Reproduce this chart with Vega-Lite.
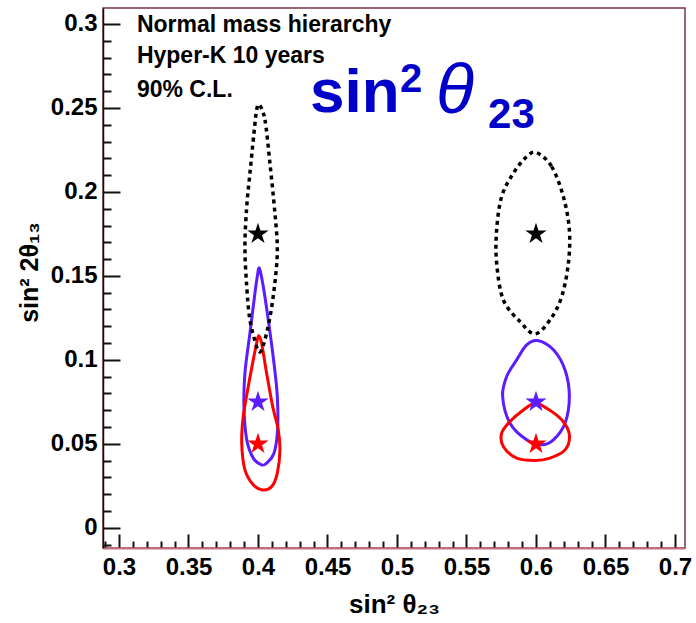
{
  "$schema": "https://vega.github.io/schema/vega-lite/v6.json",
  "width": 582,
  "height": 540,
  "autosize": {"type": "none"},
  "padding": {"left": 103, "top": 8, "right": 11, "bottom": 75},
  "background": "white",
  "config": {
    "view": {"stroke": "#7a3545", "strokeWidth": 1.5},
    "axis": {"grid": false}
  },
  "datasets": {
    "contours": [
      {"c":"bkL","g":"black","i":0,"x":0.4010,"y":0.2518},
      {"c":"bkL","g":"black","i":1,"x":0.4050,"y":0.2429},
      {"c":"bkL","g":"black","i":2,"x":0.4086,"y":0.2171},
      {"c":"bkL","g":"black","i":3,"x":0.4122,"y":0.1873},
      {"c":"bkL","g":"black","i":4,"x":0.4139,"y":0.1675},
      {"c":"bkL","g":"black","i":5,"x":0.4129,"y":0.1516},
      {"c":"bkL","g":"black","i":6,"x":0.4099,"y":0.1317},
      {"c":"bkL","g":"black","i":7,"x":0.4062,"y":0.1159},
      {"c":"bkL","g":"black","i":8,"x":0.4026,"y":0.1060},
      {"c":"bkL","g":"black","i":9,"x":0.4005,"y":0.1050},
      {"c":"bkL","g":"black","i":10,"x":0.3990,"y":0.1079},
      {"c":"bkL","g":"black","i":11,"x":0.3942,"y":0.1238},
      {"c":"bkL","g":"black","i":12,"x":0.3919,"y":0.1437},
      {"c":"bkL","g":"black","i":13,"x":0.3906,"y":0.1675},
      {"c":"bkL","g":"black","i":14,"x":0.3919,"y":0.1913},
      {"c":"bkL","g":"black","i":15,"x":0.3942,"y":0.2111},
      {"c":"bkL","g":"black","i":16,"x":0.3971,"y":0.2349},
      {"c":"bkL","g":"black","i":17,"x":0.3990,"y":0.2488},

      {"c":"buL","g":"blue","i":0,"x":0.4010,"y":0.1546},
      {"c":"buL","g":"blue","i":1,"x":0.4038,"y":0.1437},
      {"c":"buL","g":"blue","i":2,"x":0.4074,"y":0.1238},
      {"c":"buL","g":"blue","i":3,"x":0.4115,"y":0.0980},
      {"c":"buL","g":"blue","i":4,"x":0.4139,"y":0.0782},
      {"c":"buL","g":"blue","i":5,"x":0.4141,"y":0.0583},
      {"c":"buL","g":"blue","i":6,"x":0.4115,"y":0.0444},
      {"c":"buL","g":"blue","i":7,"x":0.4062,"y":0.0385},
      {"c":"buL","g":"blue","i":8,"x":0.4026,"y":0.0375},
      {"c":"buL","g":"blue","i":9,"x":0.3966,"y":0.0415},
      {"c":"buL","g":"blue","i":10,"x":0.3919,"y":0.0524},
      {"c":"buL","g":"blue","i":11,"x":0.3899,"y":0.0722},
      {"c":"buL","g":"blue","i":12,"x":0.3906,"y":0.0921},
      {"c":"buL","g":"blue","i":13,"x":0.3942,"y":0.1159},
      {"c":"buL","g":"blue","i":14,"x":0.3978,"y":0.1397},
      {"c":"buL","g":"blue","i":15,"x":0.3995,"y":0.1496},

      {"c":"rdL","g":"red","i":0,"x":0.4005,"y":0.1143},
      {"c":"rdL","g":"red","i":1,"x":0.4026,"y":0.1099},
      {"c":"rdL","g":"red","i":2,"x":0.4062,"y":0.0921},
      {"c":"rdL","g":"red","i":3,"x":0.4106,"y":0.0722},
      {"c":"rdL","g":"red","i":4,"x":0.4146,"y":0.0583},
      {"c":"rdL","g":"red","i":5,"x":0.4158,"y":0.0464},
      {"c":"rdL","g":"red","i":6,"x":0.4139,"y":0.0326},
      {"c":"rdL","g":"red","i":7,"x":0.4099,"y":0.0246},
      {"c":"rdL","g":"red","i":8,"x":0.4033,"y":0.0226},
      {"c":"rdL","g":"red","i":9,"x":0.3966,"y":0.0256},
      {"c":"rdL","g":"red","i":10,"x":0.3906,"y":0.0345},
      {"c":"rdL","g":"red","i":11,"x":0.3883,"y":0.0504},
      {"c":"rdL","g":"red","i":12,"x":0.3894,"y":0.0663},
      {"c":"rdL","g":"red","i":13,"x":0.3930,"y":0.0841},
      {"c":"rdL","g":"red","i":14,"x":0.3966,"y":0.1000},
      {"c":"rdL","g":"red","i":15,"x":0.3990,"y":0.1099},

      {"c":"bkR","g":"black","i":0,"x":0.6005,"y":0.2234},
      {"c":"bkR","g":"black","i":1,"x":0.6113,"y":0.2151},
      {"c":"bkR","g":"black","i":2,"x":0.6197,"y":0.1972},
      {"c":"bkR","g":"black","i":3,"x":0.6240,"y":0.1774},
      {"c":"bkR","g":"black","i":4,"x":0.6233,"y":0.1575},
      {"c":"bkR","g":"black","i":5,"x":0.6185,"y":0.1377},
      {"c":"bkR","g":"black","i":6,"x":0.6101,"y":0.1238},
      {"c":"bkR","g":"black","i":7,"x":0.5993,"y":0.1155},
      {"c":"bkR","g":"black","i":8,"x":0.5885,"y":0.1228},
      {"c":"bkR","g":"black","i":9,"x":0.5765,"y":0.1357},
      {"c":"bkR","g":"black","i":10,"x":0.5717,"y":0.1575},
      {"c":"bkR","g":"black","i":11,"x":0.5717,"y":0.1774},
      {"c":"bkR","g":"black","i":12,"x":0.5753,"y":0.1972},
      {"c":"bkR","g":"black","i":13,"x":0.5837,"y":0.2111},
      {"c":"bkR","g":"black","i":14,"x":0.5933,"y":0.2210},

      {"c":"buR","g":"blue","i":0,"x":0.6010,"y":0.1115},
      {"c":"buR","g":"blue","i":1,"x":0.6125,"y":0.1060},
      {"c":"buR","g":"blue","i":2,"x":0.6209,"y":0.0940},
      {"c":"buR","g":"blue","i":3,"x":0.6240,"y":0.0782},
      {"c":"buR","g":"blue","i":4,"x":0.6209,"y":0.0623},
      {"c":"buR","g":"blue","i":5,"x":0.6125,"y":0.0524},
      {"c":"buR","g":"blue","i":6,"x":0.6041,"y":0.0494},
      {"c":"buR","g":"blue","i":7,"x":0.5933,"y":0.0524},
      {"c":"buR","g":"blue","i":8,"x":0.5813,"y":0.0623},
      {"c":"buR","g":"blue","i":9,"x":0.5760,"y":0.0782},
      {"c":"buR","g":"blue","i":10,"x":0.5789,"y":0.0901},
      {"c":"buR","g":"blue","i":11,"x":0.5861,"y":0.1000},
      {"c":"buR","g":"blue","i":12,"x":0.5933,"y":0.1089},

      {"c":"rdR","g":"red","i":0,"x":0.5993,"y":0.0742},
      {"c":"rdR","g":"red","i":1,"x":0.6077,"y":0.0712},
      {"c":"rdR","g":"red","i":2,"x":0.6185,"y":0.0643},
      {"c":"rdR","g":"red","i":3,"x":0.6240,"y":0.0554},
      {"c":"rdR","g":"red","i":4,"x":0.6209,"y":0.0464},
      {"c":"rdR","g":"red","i":5,"x":0.6101,"y":0.0415},
      {"c":"rdR","g":"red","i":6,"x":0.5993,"y":0.0401},
      {"c":"rdR","g":"red","i":7,"x":0.5861,"y":0.0415},
      {"c":"rdR","g":"red","i":8,"x":0.5765,"y":0.0484},
      {"c":"rdR","g":"red","i":9,"x":0.5753,"y":0.0564},
      {"c":"rdR","g":"red","i":10,"x":0.5813,"y":0.0633},
      {"c":"rdR","g":"red","i":11,"x":0.5909,"y":0.0702}
    ],
    "stars": [
      {"g":"black","x":0.4,"y":0.175},
      {"g":"blue","x":0.4,"y":0.075},
      {"g":"red","x":0.4,"y":0.05},
      {"g":"black","x":0.6,"y":0.175},
      {"g":"blue","x":0.6,"y":0.075},
      {"g":"red","x":0.6,"y":0.05}
    ],
    "notes": [
      {"t": "Normal mass hierarchy", "x": 0.3129, "y": 0.2951},
      {"t": "Hyper-K 10 years", "x": 0.3129, "y": 0.2766},
      {"t": "90% C.L.", "x": 0.3129, "y": 0.2567}
    ],
    "bigtext": [
      {"part": "sin", "t": "sin", "x": 0.4374, "y": 0.2478},
      {"part": "sup", "t": "2", "x": 0.5022, "y": 0.2595},
      {"part": "theta", "t": "θ", "x": 0.5280, "y": 0.2470},
      {"part": "sub", "t": "23", "x": 0.5655, "y": 0.2381}
    ]
  },
  "encoding": {
    "x": {
      "field": "x", "type": "quantitative",
      "scale": {"domain": [0.2885, 0.7072], "nice": false, "zero": false},
      "axis": {
        "title": "sin² θ₂₃",
        "values": [0.29,0.3,0.31,0.32,0.33,0.34,0.35,0.36,0.37,0.38,0.39,0.4,0.41,0.42,0.43,0.44,0.45,0.46,0.47,0.48,0.49,0.5,0.51,0.52,0.53,0.54,0.55,0.56,0.57,0.58,0.59,0.6,0.61,0.62,0.63,0.64,0.65,0.66,0.67,0.68,0.69,0.7],
        "labelExpr": "abs(datum.value*20 - round(datum.value*20)) < 0.001 ? toString(round(datum.value*100)/100) : ''",
        "tickSize": {"condition": {"test": "abs(datum.value*20 - round(datum.value*20)) < 0.001", "value": -14}, "value": -7},
        "labelPadding": 21,
        "labelFont": "Liberation Sans", "labelFontWeight": "bold", "labelFontSize": 24, "labelColor": "black",
        "labelOverlap": false, "labelFlush": false,
        "tickColor": "#111111", "tickWidth": 2,
        "domainColor": "#c87080", "domainWidth": 2,
        "titleFont": "Liberation Sans", "titleFontSize": 26, "titleFontWeight": "bold", "titleColor": "black",
        "titleX": 291, "titleY": 64, "titleBaseline": "alphabetic", "titleAlign": "center"
      }
    },
    "y": {
      "field": "y", "type": "quantitative",
      "scale": {"domain": [-0.012, 0.3095], "nice": false, "zero": false},
      "axis": {
        "title": "sin² 2θ₁₃",
        "values": [-0.01,0,0.01,0.02,0.03,0.04,0.05,0.06,0.07,0.08,0.09,0.1,0.11,0.12,0.13,0.14,0.15,0.16,0.17,0.18,0.19,0.2,0.21,0.22,0.23,0.24,0.25,0.26,0.27,0.28,0.29,0.3],
        "labelExpr": "abs(datum.value*20 - round(datum.value*20)) < 0.001 ? toString(round(datum.value*100)/100) : ''",
        "tickSize": {"condition": {"test": "abs(datum.value*20 - round(datum.value*20)) < 0.001", "value": -17}, "value": -8},
        "labelPadding": 23,
        "labelFont": "Liberation Sans", "labelFontWeight": "bold", "labelFontSize": 24, "labelColor": "black",
        "labelOverlap": false, "labelFlush": false,
        "tickColor": "#111111", "tickWidth": 2,
        "domainColor": "#111111", "domainWidth": 1.5,
        "titleFont": "Liberation Sans", "titleFontSize": 25, "titleFontWeight": "bold", "titleColor": "black",
        "titleAngle": -90, "titleX": -66, "titleY": 264, "titleBaseline": "alphabetic", "titleAlign": "center"
      }
    }
  },
  "layer": [
    {
      "data": {"name": "contours"},
      "transform": [{"filter": "datum.g !== 'black'"}],
      "mark": {"type": "line", "interpolate": "cardinal-closed", "strokeWidth": 3},
      "encoding": {
        "detail": {"field": "c"},
        "order": {"field": "i", "type": "quantitative"},
        "color": {"field": "g", "type": "nominal", "legend": null,
          "scale": {"domain": ["black", "blue", "red"], "range": ["#000000", "#5b1cff", "#ff0000"]}}
      }
    },
    {
      "data": {"name": "contours"},
      "transform": [{"filter": "datum.g === 'black'"}],
      "mark": {"type": "line", "interpolate": "cardinal-closed", "strokeWidth": 3.5, "strokeDash": [4, 4], "color": "#000000"},
      "encoding": {
        "detail": {"field": "c"},
        "order": {"field": "i", "type": "quantitative"}
      }
    },
    {
      "data": {"name": "stars"},
      "mark": {"type": "point", "filled": true, "opacity": 1, "size": 500, "strokeWidth": 0,
        "shape": "M0,-1L0.2245,-0.309L0.951,-0.309L0.3633,0.118L0.5878,0.809L0,0.382L-0.5878,0.809L-0.3633,0.118L-0.951,-0.309L-0.2245,-0.309Z"},
      "encoding": {
        "color": {"field": "g", "type": "nominal", "legend": null,
          "scale": {"domain": ["black", "blue", "red"], "range": ["#000000", "#5b1cff", "#ff0000"]}}
      }
    },
    {
      "data": {"name": "notes"},
      "mark": {"type": "text", "font": "Liberation Sans", "fontWeight": "bold", "fontSize": 23, "align": "left", "baseline": "alphabetic", "color": "black"},
      "encoding": {"text": {"field": "t"}}
    },
    {
      "data": {"name": "bigtext"},
      "transform": [{"filter": "datum.part === 'sin'"}],
      "mark": {"type": "text", "font": "Liberation Sans", "fontWeight": "bold", "fontSize": 62, "align": "left", "baseline": "alphabetic", "color": "#0000c8"},
      "encoding": {"text": {"field": "t"}}
    },
    {
      "data": {"name": "bigtext"},
      "transform": [{"filter": "datum.part === 'sup'"}],
      "mark": {"type": "text", "font": "Liberation Sans", "fontWeight": "bold", "fontSize": 40, "align": "left", "baseline": "alphabetic", "color": "#0000c8"},
      "encoding": {"text": {"field": "t"}}
    },
    {
      "data": {"name": "bigtext"},
      "transform": [{"filter": "datum.part === 'theta'"}],
      "mark": {"type": "text", "font": "Liberation Sans", "fontStyle": "italic", "fontSize": 70, "align": "left", "baseline": "alphabetic", "color": "#0000c8"},
      "encoding": {"text": {"field": "t"}}
    },
    {
      "data": {"name": "bigtext"},
      "transform": [{"filter": "datum.part === 'sub'"}],
      "mark": {"type": "text", "font": "Liberation Sans", "fontWeight": "bold", "fontSize": 42, "align": "left", "baseline": "alphabetic", "color": "#0000c8"},
      "encoding": {"text": {"field": "t"}}
    }
  ]
}
